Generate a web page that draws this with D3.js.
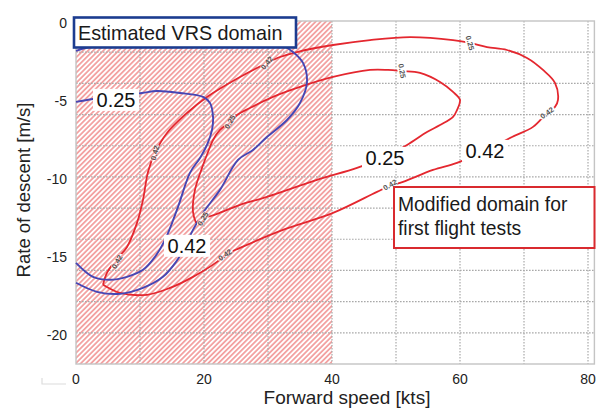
<!DOCTYPE html>
<html>
<head>
<meta charset="utf-8">
<script src="https://cdn.jsdelivr.net/npm/d3@7"></script>
<style>
  html, body { margin: 0; padding: 0; background: #fff; }
  svg { display: block; font-family: "Liberation Sans", Arial, Helvetica, sans-serif; }
</style>
</head>
<body>
<svg id="chart" width="603" height="408"></svg>
<script>
// ---- Data -------------------------------------------------------------
// Forward speed [kts] / rate of descent [m/s]
const speedTicks = [0, 20, 40, 60, 80];
const rateTicks = [0, -5, -10, -15, -20];
const speedGrid = [10, 20, 30, 40, 50, 60, 70, 80];
const rateGrid = [-2, -4, -6, -8, -10, -12, -14, -16, -18, -20];

// Estimated VRS domain (hatched): speed range
const vrsSpeedRange = [0, 40];

// Estimated VRS boundaries (blue contours), points as [speed, rate]
const blueLevel025 = [
  [0, -5.19], [2.66, -5.0], [6.41, -4.81], [10.31, -4.62], [12.66, -4.49],
  [16.25, -4.62], [19.84, -4.87], [20.94, -5.26], [21.41, -6.15], [21.25, -6.99],
  [20.47, -7.95], [19.38, -8.78], [17.81, -9.74], [15.94, -11.92], [13.91, -14.04],
  [12.34, -15.13], [10.47, -15.96], [7.97, -16.41], [5.31, -16.6], [2.66, -16.41],
  [0, -15.51]
];
const blueLevel042 = [
  [0, -1.92], [2.19, -1.67], [11.56, -1.35], [27.19, -1.35], [32.34, -1.6],
  [33.91, -1.99], [35.47, -2.69], [36.09, -3.91], [35.0, -5.26], [32.97, -6.35],
  [29.84, -7.44], [27.66, -8.27], [25.31, -8.91], [22.5, -10.83], [19.84, -12.31],
  [18.28, -13.4], [17.03, -14.49], [15.63, -15.45], [13.59, -16.41], [10.47, -17.12],
  [6.88, -17.5], [3.28, -17.37], [0, -16.79]
];

// Modified boundaries (red contours), closed loops as [speed, rate]
const redLevel025 = [
  [18.75, -12.95], [18.28, -12.24], [18.59, -10.83], [19.69, -9.42], [20.63, -8.4],
  [21.41, -7.63], [22.5, -6.99], [24.06, -6.47], [25.16, -6.03], [27.19, -5.58],
  [30.78, -4.87], [35.0, -4.23], [40.16, -3.59], [45.94, -3.14], [48.75, -3.14],
  [50.94, -3.21], [53.75, -3.33], [56.88, -3.91], [58.91, -4.55], [60.0, -5.06],
  [59.53, -5.71], [58.91, -6.15], [56.88, -6.67], [54.84, -7.12], [51.72, -7.95],
  [47.97, -8.78], [43.91, -9.42], [37.66, -10.19], [29.84, -11.28], [25.63, -11.79],
  [22.03, -12.37], [19.84, -12.69], [18.75, -12.95]
];
const redLevel042 = [
  [4.22, -16.92], [4.84, -16.15], [6.41, -15.26], [7.97, -14.49], [9.53, -12.95],
  [10.47, -11.47], [11.25, -9.68], [12.34, -8.46], [14.22, -7.18], [17.34, -5.9],
  [20.47, -4.87], [25.63, -3.59], [29.84, -2.69], [31.88, -2.31], [34.53, -1.99],
  [40.16, -1.54], [45.94, -1.22], [52.19, -1.03], [58.91, -1.22], [61.56, -1.41],
  [64.22, -1.67], [67.34, -1.86], [70.47, -2.37], [72.97, -3.14], [74.84, -3.97],
  [75.31, -5.06], [74.84, -5.51], [73.59, -5.9], [71.41, -6.79], [68.13, -7.44],
  [64.22, -8.27], [59.53, -9.1], [55.78, -9.55], [51.09, -10.32], [49.06, -10.58],
  [47.03, -10.96], [40.16, -12.31], [32.34, -13.4], [25.63, -14.55], [23.28, -15.0],
  [22.03, -15.45], [18.28, -16.41], [14.69, -17.12], [11.09, -17.56], [6.88, -17.44],
  [4.22, -16.92]
];

// Large contour labels: text, speed, rate
const bigLabelText = ["0.25", "0.42", "0.25", "0.42"];
const bigLabelSpeed = [6.25, 17.34, 48.28, 63.9];
const bigLabelRate = [-5.06, -14.42, -8.78, -8.33];

// Small inline labels on the red contours: text, speed, rate, angle [deg]
const smallLabelText = ["0.42", "0.42", "0.42", "0.42", "0.42", "0.42", "0.25", "0.25", "0.25", "0.25"];
const smallLabelSpeed = [29.84, 12.34, 6.41, 23.28, 49.06, 73.59, 61.56, 50.94, 24.06, 19.84];
const smallLabelRate = [-2.69, -8.46, -15.45, -15.0, -10.51, -5.9, -1.41, -3.21, -6.47, -12.69];
const smallLabelAngle = [-50, -75, -60, -35, -30, -35, 75, 80, -60, -60];

const legendVRS = ["Estimated VRS domain"];
const legendModified = ["Modified domain for", "first flight tests"];

// ---- Scales -----------------------------------------------------------
const x = d3.scaleLinear().domain([0, 81]).range([76, 594.4]);
const y = d3.scaleLinear().domain([-22, 0]).range([364, 21]);

const svg = d3.select("#chart");
const defs = svg.append("defs");

// Diagonal hatch for the VRS domain
const pat = defs.append("pattern")
  .attr("id", "hatch")
  .attr("patternUnits", "userSpaceOnUse")
  .attr("width", 3.6).attr("height", 10)
  .attr("patternTransform", "rotate(45)");
pat.append("rect").attr("width", 3.6).attr("height", 10).attr("fill", "#fff");
pat.append("rect").attr("x", 0).attr("width", 1.8).attr("height", 10).attr("fill", "#f3a2a2");

// Gaps in the contour lines behind the small inline labels
const mask = defs.append("mask").attr("id", "labelGaps")
  .attr("maskUnits", "userSpaceOnUse")
  .attr("x", 0).attr("y", 0).attr("width", 603).attr("height", 408);
mask.append("rect").attr("width", 603).attr("height", 408).attr("fill", "#fff");
mask.selectAll("ellipse").data(smallLabelText).join("ellipse")
  .attr("transform", (d, i) => `translate(${x(smallLabelSpeed[i])},${y(smallLabelRate[i])}) rotate(${smallLabelAngle[i]})`)
  .attr("rx", 9).attr("ry", 4.5)
  .attr("fill", "#000");

// ---- Hatched domain ----------------------------------------------------
svg.append("rect")
  .attr("x", x(vrsSpeedRange[0]))
  .attr("y", y(0))
  .attr("width", x(vrsSpeedRange[1]) - x(vrsSpeedRange[0]))
  .attr("height", y(-22) - y(0))
  .attr("fill", "url(#hatch)");

// ---- Grid --------------------------------------------------------------
const grid = svg.append("g").attr("stroke", "#a9a9a9").attr("stroke-width", 1.2)
  .attr("stroke-dasharray", "1.6,1.4");
grid.selectAll("line.v").data(speedGrid).join("line").attr("class", "v")
  .attr("x1", d => x(d)).attr("x2", d => x(d))
  .attr("y1", y(0)).attr("y2", y(-22));
grid.selectAll("line.h").data(rateGrid).join("line").attr("class", "h")
  .attr("x1", x(0)).attr("x2", x(81))
  .attr("y1", d => y(d)).attr("y2", d => y(d));

// Plot frame
svg.append("rect")
  .attr("x", x(0)).attr("y", y(0))
  .attr("width", x(81) - x(0)).attr("height", y(-22) - y(0))
  .attr("fill", "none").attr("stroke", "#c4c4c4").attr("stroke-width", 1.4);

// ---- Contours ----------------------------------------------------------
const line = d3.line().x(d => x(d[0])).y(d => y(d[1])).curve(d3.curveCatmullRom.alpha(0.5));
const contours = svg.append("g").attr("fill", "none").attr("mask", "url(#labelGaps)");
contours.append("path").datum(redLevel042).attr("d", line)
  .attr("stroke", "#e4272f").attr("stroke-width", 1.8);
contours.append("path").datum(redLevel025).attr("d", line)
  .attr("stroke", "#e4272f").attr("stroke-width", 1.8);
contours.append("path").datum(blueLevel025).attr("d", line)
  .attr("stroke", "#4646b4").attr("stroke-width", 1.9);
contours.append("path").datum(blueLevel042).attr("d", line)
  .attr("stroke", "#4646b4").attr("stroke-width", 1.9);

// Small inline labels
svg.append("g").selectAll("text").data(smallLabelText).join("text")
  .attr("transform", (d, i) => `translate(${x(smallLabelSpeed[i])},${y(smallLabelRate[i])}) rotate(${smallLabelAngle[i]})`)
  .attr("text-anchor", "middle").attr("dy", "0.35em")
  .attr("font-size", 7.5).attr("font-weight", "bold").attr("fill", "#555")
  .text(d => d);

// Large labels on white boxes
const big = svg.append("g").selectAll("g").data(bigLabelText).join("g")
  .attr("transform", (d, i) => `translate(${x(bigLabelSpeed[i])},${y(bigLabelRate[i])})`);
big.append("rect").attr("x", -23).attr("y", -11).attr("width", 46).attr("height", 22).attr("fill", "#fff");
big.append("text").attr("text-anchor", "middle").attr("dy", "0.36em")
  .attr("font-size", 20).attr("fill", "#111").text(d => d);

// ---- Axes labels -------------------------------------------------------
svg.append("g").selectAll("text").data(speedTicks).join("text")
  .attr("x", d => x(d)).attr("y", 384)
  .attr("text-anchor", "middle").attr("font-size", 14).attr("fill", "#222")
  .text(d => d);
svg.append("g").selectAll("text").data(rateTicks).join("text")
  .attr("x", 67).attr("y", d => y(d) + 2).attr("dy", "0.35em")
  .attr("text-anchor", "end").attr("font-size", 14).attr("fill", "#222")
  .text(d => d);

svg.append("text")
  .attr("x", 347).attr("y", 404).attr("text-anchor", "middle")
  .attr("font-size", 19).attr("fill", "#222")
  .text("Forward speed [kts]");
svg.append("text")
  .attr("transform", "translate(30,190) rotate(-90)")
  .attr("text-anchor", "middle").attr("font-size", 18.5).attr("fill", "#222")
  .text("Rate of descent [m/s]");

// small corner tick mark below the axis
svg.append("path").attr("d", "M42,378V384H66").attr("fill", "none")
  .attr("stroke", "#dcdcdc").attr("stroke-width", 1.2);

// ---- Domain annotations ------------------------------------------------
const boxVRS = svg.append("g");
boxVRS.append("rect").attr("x", 74).attr("y", 17.5).attr("width", 222).attr("height", 30)
  .attr("fill", "#fff").attr("stroke", "#1c3c90").attr("stroke-width", 2.6);
boxVRS.selectAll("text").data(legendVRS).join("text")
  .attr("x", 78).attr("y", 39.5).attr("font-size", 19.8).attr("fill", "#1a1a1a")
  .text(d => d);

const boxMod = svg.append("g");
boxMod.append("rect").attr("x", 394).attr("y", 187).attr("width", 200.5).attr("height", 61)
  .attr("fill", "#fff").attr("stroke", "#d92a2f").attr("stroke-width", 2);
boxMod.selectAll("text").data(legendModified).join("text")
  .attr("x", 398).attr("y", (d, i) => 211 + i * 24).attr("font-size", 19.3).attr("fill", "#1a1a1a")
  .text(d => d);
</script>
</body>
</html>
